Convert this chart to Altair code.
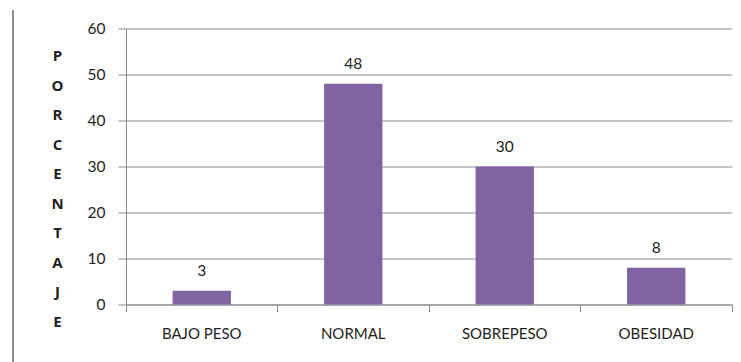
import altair as alt
import pandas as pd

# Distribución por estado nutricional (porcentaje)
categorias = ["BAJO PESO", "NORMAL", "SOBREPESO", "OBESIDAD"]
porcentajes = [3, 48, 30, 8]
y_ticks = [0, 10, 20, 30, 40, 50, 60]
titulo_y = list("PORCENTAJE")

df = pd.DataFrame({"categoria": categorias, "porcentaje": porcentajes})

FONT = "Lato"
TEXT = "#1e1e1e"
GRID = "#8a8a8a"
BAR = "#8064A2"

W, H = 606, 276

x_enc = alt.X(
    "categoria:N",
    sort=categorias,
    scale=alt.Scale(paddingInner=0, paddingOuter=0),
    axis=alt.Axis(
        title=None,
        labelAngle=0,
        labelFont=FONT,
        labelFontSize=15,
        labelColor=TEXT,
        labelPadding=15,
        bandPosition=1,
        tickExtra=True,
        tickSize=7,
        tickColor=GRID,
        domainColor=GRID,
        grid=False,
    ),
)

y_enc = alt.Y(
    "porcentaje:Q",
    scale=alt.Scale(domain=[0, 60], nice=False),
    axis=alt.Axis(
        values=y_ticks,
        title=titulo_y,
        titleAngle=0,
        titleAlign="center",
        titleBaseline="top",
        titleFont="Open Sans",
        titleFontSize=15,
        titleFontWeight="bold",
        titleColor=TEXT,
        titleLineHeight=29.5,
        titleX=-69,
        titleY=20,
        labelFont=FONT,
        labelFontSize=15.5,
        labelColor=TEXT,
        labelPadding=13,
        tickSize=8,
        tickColor=GRID,
        domainColor=GRID,
        gridColor=GRID,
        gridWidth=1,
    ),
)

bars = alt.Chart(df).mark_bar(
    color=BAR, width=alt.RelativeBandSize(0.385)
).encode(x=x_enc, y=y_enc)

labels = alt.Chart(df).mark_text(
    font=FONT, fontSize=15.5, color=TEXT, baseline="bottom", dy=-12
).encode(
    x=alt.X("categoria:N", sort=categorias),
    y="porcentaje:Q",
    text="porcentaje:Q",
)

# vertical border line on the far left of the figure
border = alt.Chart(df).mark_rule(color="#8c8c8c", strokeWidth=1.5, clip=False).encode(
    x=alt.value(-113), y=alt.value(-18), y2=alt.value(H + 58)
)

chart = (
    alt.layer(bars, labels, border)
    .properties(
        width=W,
        height=H,
        autosize=alt.AutoSizeParams(type="none"),
        padding={"left": 126, "top": 28.5, "right": 9, "bottom": 57.5},
        background="white",
    )
    .configure_view(stroke=None)
)

chart.save("out.html", embed_options={"renderer": "svg", "actions": False})
